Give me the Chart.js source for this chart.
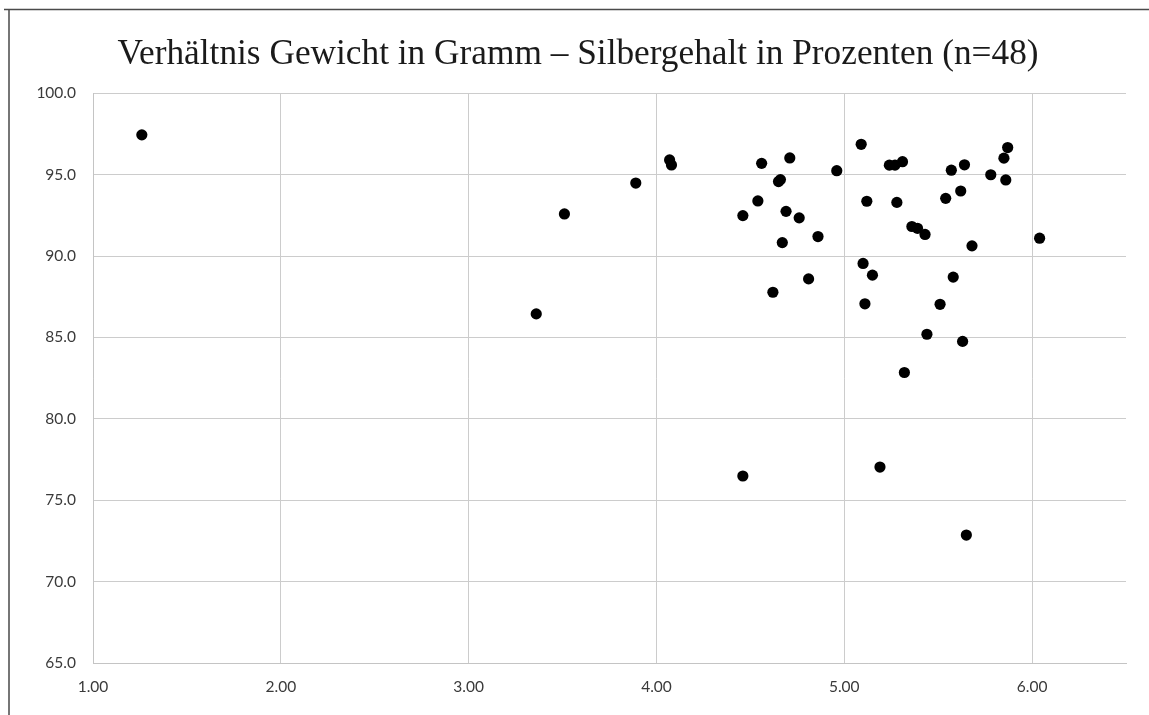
<!DOCTYPE html>
<html>
<head>
<meta charset="utf-8">
<script src="https://cdn.jsdelivr.net/npm/chart.js@4.4.1/dist/chart.umd.min.js"></script>
<style>
  html, body { margin: 0; padding: 0; background: #ffffff; }
  #wrap { position: relative; width: 1149px; height: 715px; }
  canvas { display: block; }
</style>
</head>
<body>
<div id="wrap"><canvas id="c" width="1149" height="715"></canvas></div>
<script>
// Chart title
const chartTitle = "Verhältnis Gewicht in Gramm – Silbergehalt in Prozenten (n=48)";

// Weight in gram (x)
const weightGram = [
  1.26, 3.36, 3.51, 3.89, 4.07, 4.08, 4.46, 4.56, 4.71, 4.96,
  4.65, 4.66, 4.54, 4.69, 4.76, 4.86, 4.67, 4.81, 4.62, 5.09,
  5.24, 5.27, 5.31, 5.12, 5.28, 5.36, 5.39, 5.43, 5.57, 5.64,
  5.54, 5.62, 5.78, 5.85, 5.87, 5.86, 5.68, 6.04, 5.10, 5.15,
  5.11, 5.58, 5.51, 5.44, 5.63, 5.32, 4.46, 5.19, 5.65
];

// Silver content in percent (y)
const silverPercent = [
  97.45, 86.45, 92.59, 94.49, 95.91, 95.60, 92.49, 95.70, 96.03, 95.25,
  94.58, 94.70, 93.39, 92.75, 92.35, 91.20, 90.83, 88.60, 87.78, 96.87,
  95.59, 95.59, 95.80, 93.37, 93.30, 91.82, 91.71, 91.33, 95.28, 95.61,
  93.55, 94.00, 95.00, 96.02, 96.67, 94.68, 90.63, 91.10, 89.55, 88.83,
  87.07, 88.71, 87.04, 85.20, 84.76, 82.85, 76.49, 77.04, 72.86
];

// Axis ticks
const xTicks = [1, 2, 3, 4, 5, 6];
const yTicks = [65, 70, 75, 80, 85, 90, 95, 100];
const xRange = [1, 6.5];
const yRange = [65, 100];

const points = weightGram.map((w, i) => ({ x: w, y: silverPercent[i] }));

const framePlugin = {
  id: 'frame',
  beforeDraw(chart) {
    const ctx = chart.ctx;
    ctx.save();
    ctx.fillStyle = '#ffffff';
    ctx.fillRect(0, 0, chart.width, chart.height);
    ctx.strokeStyle = '#4a4a4a';
    ctx.lineWidth = 1.5;
    ctx.beginPath();
    ctx.moveTo(4, 9.5);
    ctx.lineTo(chart.width, 9.5);
    ctx.moveTo(9, 9.5);
    ctx.lineTo(9, chart.height);
    ctx.stroke();
    ctx.restore();
  }
};

new Chart(document.getElementById('c'), {
  type: 'scatter',
  data: {
    datasets: [{
      data: points,
      backgroundColor: '#000000',
      borderColor: '#000000',
      borderWidth: 0,
      pointRadius: 5.6,
      pointHoverRadius: 5.6
    }]
  },
  plugins: [framePlugin],
  options: {
    responsive: false,
    animation: false,
    devicePixelRatio: 1,
    layout: { padding: { left: 30, right: 23, top: 0, bottom: 0 } },
    plugins: {
      legend: { display: false },
      tooltip: { enabled: false },
      title: {
        display: true,
        text: chartTitle,
        color: '#1a1a1a',
        font: { family: '"Liberation Serif", "DejaVu Serif", serif', size: 35.3, weight: 'normal', lineHeight: 1.2 },
        padding: { top: 34, bottom: 17 }
      }
    },
    scales: {
      x: {
        type: 'linear',
        min: xRange[0],
        max: xRange[1],
        afterFit(scale) { scale.height = 52; },
        afterBuildTicks(scale) { scale.ticks = xTicks.map(v => ({ value: v })); },
        ticks: {
          stepSize: 1,
          includeBounds: false,
          padding: 15,
          color: '#3a3a3a',
          font: { family: 'Lato, "Open Sans", sans-serif', size: 15.5 },
          callback: v => Number(v).toFixed(2)
        },
        grid: { color: '#cccccc', lineWidth: 1, drawTicks: false },
        border: { color: '#c4c4c4', width: 1 }
      },
      y: {
        type: 'linear',
        min: yRange[0],
        max: yRange[1],
        afterFit(scale) { scale.width = 63; },
        afterBuildTicks(scale) { scale.ticks = yTicks.map(v => ({ value: v })); },
        ticks: {
          stepSize: 5,
          padding: 17,
          color: '#3a3a3a',
          font: { family: 'Lato, "Open Sans", sans-serif', size: 15.5 },
          callback: v => Number(v).toFixed(1)
        },
        grid: { color: '#cccccc', lineWidth: 1, drawTicks: false },
        border: { color: '#c4c4c4', width: 1 }
      }
    }
  }
});
</script>
</body>
</html>
